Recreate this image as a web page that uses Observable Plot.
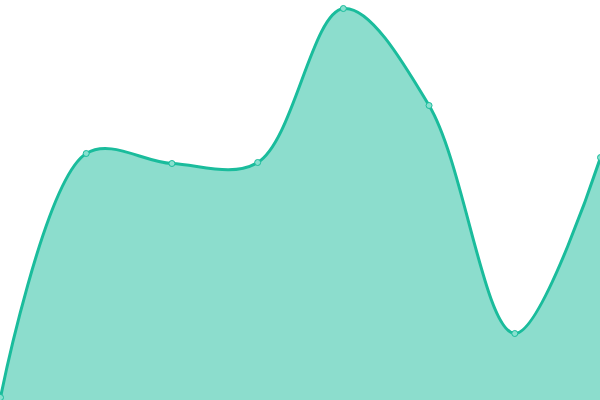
<!DOCTYPE html>
<html>
<head>
<meta charset="utf-8">
<script src="https://cdn.jsdelivr.net/npm/d3@7"></script>
<script src="https://cdn.jsdelivr.net/npm/@observablehq/plot@0.6"></script>
<style>
html,body{margin:0;padding:0;background:#fff;overflow:hidden;}
</style>
</head>
<body>
<div id="chart"></div>
<script>
const categories = [0, 1, 2, 3, 4, 5, 6, 7];
const values = [3, 247, 237, 238, 392, 295, 67, 243];

const data = categories.map((c, i) => ({x: c, y: values[i]}));

const chart = Plot.plot({
  width: 600,
  height: 400,
  margin: 0,
  x: {domain: [0, 7], axis: null},
  y: {domain: [0, 400], axis: null},
  marks: [
    Plot.areaY(data, {x: "x", y: "y", curve: "catmull-rom", fill: "#1abc9c", fillOpacity: 0.5}),
    Plot.lineY(data, {x: "x", y: "y", curve: "catmull-rom", stroke: "#1abc9c", strokeWidth: 3}),
    Plot.dot(data, {x: "x", y: "y", r: 3, fill: "#88e0cf", stroke: "#1abc9c", strokeWidth: 1})
  ]
});
document.getElementById("chart").appendChild(chart);
</script>
</body>
</html>
